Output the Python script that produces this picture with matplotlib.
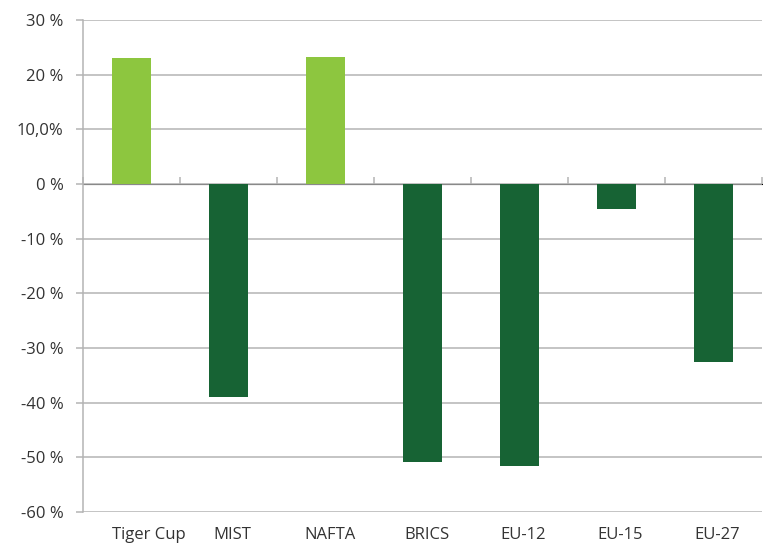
import numpy as np
import matplotlib.pyplot as plt
from matplotlib.transforms import ScaledTranslation

categories = ['Tiger Cup', 'MIST', 'NAFTA', 'BRICS', 'EU-12', 'EU-15', 'EU-27']
values = [23.0, -38.9, 23.2, -50.9, -51.5, -4.6, -32.5]
ytick_vals = [30, 20, 10, 0, -10, -20, -30, -40, -50, -60]
ytick_labels = ['30 %', '20 %', '10,0%', '0 %', '-10 %', '-20 %', '-30 %', '-40 %', '-50 %', '-60 %']

light = '#8dc63f'
dark = '#176334'
grid_c = '#b4b4b4'
text_c = '#333333'

plt.rcParams['font.family'] = ['Open Sans', 'DejaVu Sans']
plt.rcParams['font.size'] = 12

fig = plt.figure(figsize=(7.63, 5.43), dpi=100)
ax = fig.add_axes([0.1088, 0.0571, 0.8899, 0.9061])

x = np.arange(len(categories))
colors = [light if v > 0 else dark for v in values]
ax.bar(x, values, width=0.40, color=colors, zorder=3)

ax.set_xlim(-0.5, len(categories) - 0.5)
ax.set_ylim(-60, 30)
ax.set_yticks(ytick_vals)
ax.set_yticklabels(ytick_labels)
ax.yaxis.grid(True, color=grid_c, linewidth=1.1, zorder=0)
ax.set_axisbelow(True)

ax.set_xticks(x)
ax.set_xticklabels(categories)
ax.tick_params(axis='x', length=0, pad=11, colors=text_c, labelsize=12)
ax.tick_params(axis='y', length=5, width=1.1, color=grid_c, pad=9, labelcolor=text_c, labelsize=12)

# labels sit slightly right of the bar centres in the original
for i, lab in enumerate(ax.get_xticklabels()):
    dx = 17 if i == 0 else 4
    lab.set_transform(lab.get_transform() + ScaledTranslation(dx / 100, 0, fig.dpi_scale_trans))

for s in ['top', 'right', 'bottom']:
    ax.spines[s].set_visible(False)
ax.spines['left'].set_color(grid_c)
ax.spines['left'].set_linewidth(1.1)

# zero line with category boundary ticks
zero_frac = (0 - (-60)) / (30 - (-60))
sec = ax.secondary_xaxis(zero_frac)
sec.set_xticks(np.arange(len(categories) + 1) - 0.5)
sec.set_xticklabels([])
sec.tick_params(axis='x', length=5, width=1.1, color=grid_c)
sec.spines['bottom'].set_color(grid_c)
sec.spines['bottom'].set_linewidth(1.1)

fig.savefig('out.png', dpi=100)
